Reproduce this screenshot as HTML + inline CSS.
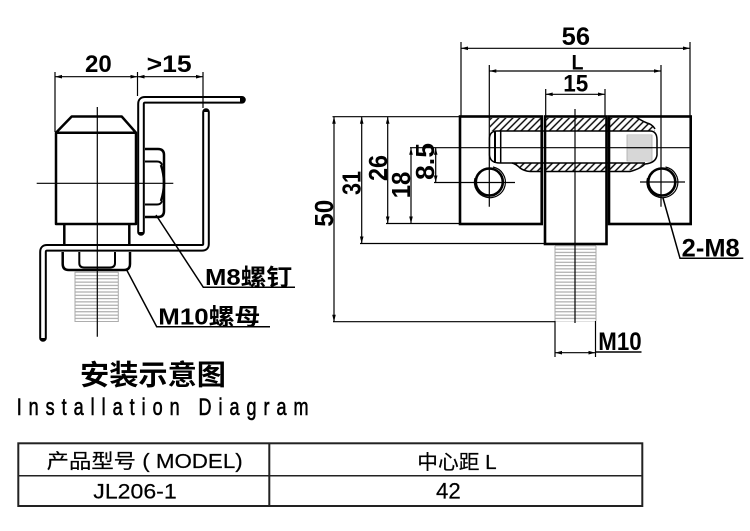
<!DOCTYPE html>
<html><head><meta charset="utf-8"><style>
html,body{margin:0;padding:0;background:#fff;}
svg{display:block;}
text{font-family:"Liberation Sans","Noto Sans CJK SC",sans-serif;fill:#000;}
</style></head><body>
<svg width="750" height="531" viewBox="0 0 750 531" xmlns="http://www.w3.org/2000/svg">
<defs>
<pattern id="h" width="5" height="5" patternUnits="userSpaceOnUse" patternTransform="rotate(45)"><line x1="1" y1="0" x2="1" y2="5" stroke="#000" stroke-width="1.4"/></pattern>
<pattern id="hg" width="5" height="5" patternUnits="userSpaceOnUse" patternTransform="rotate(45)"><line x1="1" y1="0" x2="1" y2="5" stroke="#999" stroke-width="1"/></pattern>
<pattern id="th" width="10" height="3.3" patternUnits="userSpaceOnUse"><line x1="0" y1="1.6" x2="10" y2="1.6" stroke="#9a9a9a" stroke-width="1"/></pattern>
<pattern id="th2" width="10" height="2" patternUnits="userSpaceOnUse"><line x1="0" y1="1" x2="10" y2="1" stroke="#9a9a9a" stroke-width="0.8"/></pattern>
</defs>
<rect width="750" height="531" fill="#fff"/>

<!-- ============ LEFT DRAWING ============ -->
<path d="M242,99.8 H145 Q141,99.8 141,104 V232" fill="none" stroke="#000" stroke-width="7.6" stroke-linecap="round" stroke-linejoin="round"/>
<path d="M240,99.8 H145 Q141,99.8 141,104 V232" fill="none" stroke="#fff" stroke-width="3.6" stroke-linejoin="round"/>
<path d="M206,112 V244 Q206,247.8 202,247.8 H47 Q43,247.8 43,252 V338" fill="none" stroke="#000" stroke-width="7.6" stroke-linecap="round" stroke-linejoin="round"/>
<path d="M206,112 V244 Q206,247.8 202,247.8 H47 Q43,247.8 43,252 V338" fill="none" stroke="#fff" stroke-width="3.6" stroke-linejoin="round"/>

<g fill="none" stroke="#000" stroke-width="2.5" stroke-linejoin="round">
<path d="M56,224 V132.7 L71.7,116.5 H121.7 L136,132.7 V224 Z"/>
<line x1="56" y1="132.7" x2="136" y2="132.7"/>
<line x1="64.3" y1="224" x2="64.3" y2="244"/>
<line x1="129.3" y1="224" x2="129.3" y2="244"/>
<path d="M62.7,252 V264 Q62.7,270 68.7,270 H124 Q130,270 130,264 V252"/>
<path d="M79.3,252 V263 Q79.3,267.5 84,267.5 H110 Q115,267.5 115,263 V252" stroke-width="2"/>
<path d="M145,149 H158 Q164,149 164,155 V211 Q164,217 158,217 H145"/>
<path d="M145,161.5 H157 Q161,161.5 162,165 M145,204.5 H157 Q161,204.5 162,201" stroke-width="2"/>
<path d="M161,165 Q167,183 161,201" stroke-width="2.5"/>
</g>
<rect x="75" y="270.5" width="43.3" height="51.5" fill="url(#th)"/>
<line x1="75" y1="271" x2="75" y2="322" stroke="#aaa" stroke-width="1"/>
<line x1="118.3" y1="271" x2="118.3" y2="322" stroke="#aaa" stroke-width="1"/>

<g stroke="#000" stroke-width="1.2">
<line x1="97.3" y1="107" x2="97.3" y2="336.7"/>
<line x1="36.7" y1="183.3" x2="173.3" y2="183.3"/>
</g>

<g stroke="#000" stroke-width="1.2">
<line x1="55" y1="72" x2="55" y2="132"/>
<line x1="137.5" y1="72" x2="137.5" y2="96"/>
<line x1="203" y1="72" x2="203" y2="108"/>
<line x1="55" y1="76.7" x2="203" y2="76.7"/>
</g>
<g fill="#000">
<polygon points="55,76.7 62,74.9 62,78.5"/>
<polygon points="137.5,76.7 130.5,74.9 130.5,78.5"/>
<polygon points="137.5,76.7 144.5,74.9 144.5,78.5"/>
<polygon points="203,76.7 196,74.9 196,78.5"/>
</g>
<text x="85" y="72" font-size="24" font-weight="bold" textLength="26.7" lengthAdjust="spacingAndGlyphs">20</text>
<text x="146.7" y="72" font-size="24" font-weight="bold" textLength="45" lengthAdjust="spacingAndGlyphs">&gt;15</text>

<g stroke="#000" stroke-width="1.5" fill="none">
<polyline points="156,215 203.3,287.3 295,287.3"/>
<polyline points="126.7,270 156.7,326.7 270,326.7"/>
</g>
<text x="205" y="285" font-size="23" font-weight="bold" textLength="87" lengthAdjust="spacingAndGlyphs">M8螺钉</text>
<text x="158.3" y="324.5" font-size="23" font-weight="bold" textLength="102" lengthAdjust="spacingAndGlyphs">M10螺母</text>

<!-- ============ RIGHT DRAWING ============ -->
<g fill="url(#h)">
<rect x="490" y="118" width="51" height="13"/>
<rect x="546" y="118" width="59.5" height="13"/>
<path d="M610,118 H636 Q642,121 647,123 Q652,124 655,129 L655,131 H610 Z"/>
<path d="M512,163 H541 V171.5 H530 Q524,171 520,168 Q516,164 512,163 Z"/>
<rect x="546" y="163" width="59.5" height="8.5"/>
<path d="M610,163 H645 Q640,168 632,170 Q620,171.5 610,171.5 Z"/>
</g>
<rect x="627" y="135" width="25" height="26" fill="url(#th2)" stroke="#aaa" stroke-width="0.8"/>
<g fill="none" stroke="#000" stroke-width="1.5">
<path d="M497,131 H650 Q657,131 657,140 V155 Q656,163 645,164"/>
<path d="M497,131 Q489,131 489.5,140 V155 Q490,163 500,163 H645"/>
<line x1="495" y1="131" x2="495" y2="163" stroke-width="2"/>
<line x1="500.7" y1="131" x2="500.7" y2="163" stroke-width="1.5"/>
<path d="M636,117 Q642,121 647,123 Q652,124 655,129"/>
<path d="M530,171.5 H541 M546,171.5 H605.5 M610,171.5 H630 Q640,169 645,164"/>
<path d="M512,163 Q516,164 520,168 Q524,171 530,171.5"/>
</g>
<g fill="none" stroke="#000" stroke-width="2.6">
<rect x="460" y="116.5" width="81.7" height="107.5"/>
<rect x="545" y="116.5" width="61.5" height="127.5"/>
<rect x="609" y="116.5" width="81.7" height="107.5"/>
</g>
<rect x="555" y="245.5" width="41" height="76" fill="url(#th)"/>
<line x1="555" y1="246" x2="555" y2="321" stroke="#aaa" stroke-width="1"/>
<line x1="596" y1="246" x2="596" y2="321" stroke="#aaa" stroke-width="1"/>

<g fill="none" stroke="#000">
<circle cx="489.3" cy="182" r="13.5" stroke-width="2.6"/>
<path d="M475,178 A15.5,15.5 0 1 0 493,167" stroke-width="1.2"/>
<circle cx="661.8" cy="182" r="13.5" stroke-width="2.6"/>
<path d="M647.5,178 A15.5,15.5 0 1 0 665.5,167" stroke-width="1.2"/>
</g>

<g stroke="#000" stroke-width="1.2">
<line x1="575" y1="109" x2="575" y2="323"/>
<line x1="489.3" y1="65" x2="489.3" y2="206.7"/>
<line x1="661" y1="65" x2="661" y2="206.7"/>
<line x1="410" y1="147.7" x2="691" y2="147.7"/>
<line x1="434" y1="182.5" x2="515" y2="182.5"/>
<line x1="640" y1="182" x2="685" y2="182"/>
<line x1="461" y1="42" x2="461" y2="116"/>
<line x1="690" y1="42" x2="690" y2="116"/>
<line x1="545.7" y1="89" x2="545.7" y2="116"/>
<line x1="605" y1="89" x2="605" y2="116"/>
<line x1="332.5" y1="116.7" x2="460" y2="116.7"/>
<line x1="333" y1="321.7" x2="555" y2="321.7"/>
<line x1="360" y1="243.5" x2="545" y2="243.5"/>
<line x1="386" y1="223.5" x2="460" y2="223.5"/>
<line x1="555" y1="321" x2="555" y2="357"/>
<line x1="595.5" y1="321" x2="595.5" y2="357"/>
<line x1="461" y1="48.3" x2="690" y2="48.3"/>
<line x1="489.3" y1="71" x2="661" y2="71"/>
<line x1="545.7" y1="94.3" x2="605" y2="94.3"/>
<line x1="555" y1="352.7" x2="595.5" y2="352.7"/>
<line x1="334" y1="116.7" x2="334" y2="321.7"/>
<line x1="361.7" y1="116.7" x2="361.7" y2="243.5"/>
<line x1="387.7" y1="116.7" x2="387.7" y2="223.5"/>
<line x1="411" y1="147.7" x2="411" y2="223.5"/>
<line x1="435.7" y1="147.7" x2="435.7" y2="182.5"/>
</g>
<g fill="#000">
<polygon points="461,48.3 468,46.5 468,50.1"/><polygon points="690,48.3 683,46.5 683,50.1"/>
<polygon points="489.3,71 496.3,69.2 496.3,72.8"/><polygon points="661,71 654,69.2 654,72.8"/>
<polygon points="545.7,94.3 552.7,92.5 552.7,96.1"/><polygon points="605,94.3 598,92.5 598,96.1"/>
<polygon points="555,352.7 562,350.9 562,354.5"/><polygon points="595.5,352.7 588.5,350.9 588.5,354.5"/>
<polygon points="334,116.7 332.2,123.7 335.8,123.7"/><polygon points="334,321.7 332.2,314.7 335.8,314.7"/>
<polygon points="361.7,116.7 359.9,123.7 363.5,123.7"/><polygon points="361.7,243.5 359.9,236.5 363.5,236.5"/>
<polygon points="387.7,116.7 385.9,123.7 389.5,123.7"/><polygon points="387.7,223.5 385.9,216.5 389.5,216.5"/>
<polygon points="411,147.7 409.2,154.7 412.8,154.7"/><polygon points="411,223.5 409.2,216.5 412.8,216.5"/>
<polygon points="435.7,147.7 433.9,154.7 437.5,154.7"/><polygon points="435.7,182.5 433.9,175.5 437.5,175.5"/>
</g>

<polyline points="663,198 680,258.3 743.3,258.3" fill="none" stroke="#000" stroke-width="1.5"/>
<line x1="595.5" y1="352" x2="641.5" y2="352" stroke="#000" stroke-width="1.5"/>

<g font-weight="bold">
<text x="561.7" y="45" font-size="25" textLength="28.3" lengthAdjust="spacingAndGlyphs">56</text>
<text x="571.5" y="69.5" font-size="21" textLength="12" lengthAdjust="spacingAndGlyphs">L</text>
<text x="563.3" y="91.7" font-size="24" textLength="25" lengthAdjust="spacingAndGlyphs">15</text>
<text x="681.7" y="256.5" font-size="25" textLength="58" lengthAdjust="spacingAndGlyphs">2-M8</text>
<text x="598.3" y="350" font-size="25" textLength="43.3" lengthAdjust="spacingAndGlyphs">M10</text>
<text transform="translate(333,226.7) rotate(-90)" font-size="26" textLength="27" lengthAdjust="spacingAndGlyphs">50</text>
<text transform="translate(360.5,195) rotate(-90)" font-size="26" textLength="24" lengthAdjust="spacingAndGlyphs">31</text>
<text transform="translate(387,181) rotate(-90)" font-size="26" textLength="26" lengthAdjust="spacingAndGlyphs">26</text>
<text transform="translate(410,198.3) rotate(-90)" font-size="26" textLength="26.6" lengthAdjust="spacingAndGlyphs">18</text>
<text transform="translate(434,180) rotate(-90)" font-size="26" textLength="37" lengthAdjust="spacingAndGlyphs">8.5</text>
</g>

<!-- ============ TITLES ============ -->
<text x="80" y="384.5" font-size="28" font-weight="bold" textLength="146" lengthAdjust="spacingAndGlyphs">安装示意图</text>
<text transform="translate(16.7,415) scale(0.75,1)" font-size="24" stroke="#000" stroke-width="0.6" textLength="389" lengthAdjust="spacing">Installation Diagram</text>

<!-- ============ TABLE ============ -->
<rect x="18.3" y="443.3" width="624" height="62.7" fill="none" stroke="#222" stroke-width="2"/>
<line x1="18.3" y1="475.7" x2="642.3" y2="475.7" stroke="#222" stroke-width="1.5"/>
<line x1="269.3" y1="443.3" x2="269.3" y2="506" stroke="#222" stroke-width="2"/>
<g stroke="#000" stroke-width="0.2">
<text x="46.7" y="468" font-size="20" textLength="196" lengthAdjust="spacingAndGlyphs">产品型号 ( MODEL)</text>
<text x="93.3" y="498.3" font-size="21" textLength="83.4" lengthAdjust="spacingAndGlyphs">JL206-1</text>
<text x="417.3" y="469" font-size="20" textLength="79.4" lengthAdjust="spacingAndGlyphs">中心距 L</text>
<text x="436" y="498.3" font-size="22" textLength="24.7" lengthAdjust="spacingAndGlyphs">42</text>
</g>
</svg>
</body></html>
